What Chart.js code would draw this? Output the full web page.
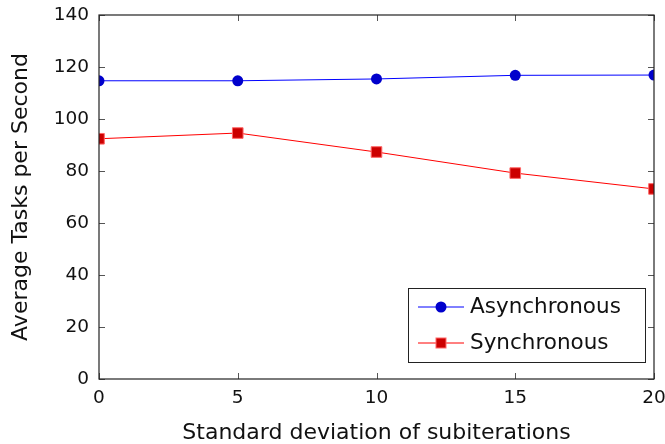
<!DOCTYPE html>
<html>
<head>
<meta charset="utf-8">
<script src="https://cdn.jsdelivr.net/npm/chart.js@4.4.0/dist/chart.umd.min.js"></script>
<style>
  html, body { margin: 0; padding: 0; background: #fff; }
  #wrap { width: 665px; height: 444px; }
</style>
</head>
<body>
<div id="wrap"><canvas id="myChart" width="665" height="444"></canvas></div>
<script>
// datos del grafico
const deviations = [0, 5, 10, 15, 20];
const asyncValues = [114.7, 114.7, 115.4, 116.8, 116.9];
const syncValues = [92.4, 94.6, 87.3, 79.2, 73.1];
const yTicks = [0, 20, 40, 60, 80, 100, 120, 140];
const xTicks = [0, 5, 10, 15, 20];

const fontName = "DejaVu Sans";

// marco y ticks hacia adentro, estilo pgfplots
const framePlugin = {
  id: "frame",
  afterDraw(chart) {
    const ctx = chart.ctx;
    const a = chart.chartArea;
    const xs = chart.scales.x;
    const ys = chart.scales.y;
    ctx.save();
    ctx.strokeStyle = "#555";
    ctx.lineWidth = 1;
    xTicks.forEach((t) => {
      const px = Math.round(xs.getPixelForValue(t)) + 0.5;
      ctx.beginPath();
      ctx.moveTo(px, a.bottom); ctx.lineTo(px, a.bottom - 6);
      ctx.moveTo(px, a.top); ctx.lineTo(px, a.top + 6);
      ctx.stroke();
    });
    yTicks.forEach((t) => {
      const py = Math.round(ys.getPixelForValue(t)) + 0.5;
      ctx.beginPath();
      ctx.moveTo(a.left, py); ctx.lineTo(a.left + 6, py);
      ctx.moveTo(a.right, py); ctx.lineTo(a.right - 6, py);
      ctx.stroke();
    });
    ctx.strokeStyle = "#222";
    ctx.lineWidth = 1.2;
    ctx.strokeRect(a.left, a.top, a.right - a.left, a.bottom - a.top);

    // leyenda
    const lx = 408, ly = 288, lw = 237, lh = 74;
    ctx.fillStyle = "#fff";
    ctx.fillRect(lx, ly, lw, lh);
    ctx.strokeStyle = "#222";
    ctx.lineWidth = 1;
    ctx.strokeRect(lx + 0.5, ly + 0.5, lw, lh);
    chart.data.datasets.forEach((ds, i) => {
      const cy = ly + 19 + i * 36;
      ctx.strokeStyle = ds.borderColor;
      ctx.lineWidth = 1;
      ctx.beginPath();
      ctx.moveTo(lx + 10, cy); ctx.lineTo(lx + 56, cy);
      ctx.stroke();
      ctx.fillStyle = ds.pointBackgroundColor;
      ctx.strokeStyle = ds.pointBorderColor;
      if (ds.pointStyle === "circle") {
        ctx.beginPath();
        ctx.arc(lx + 33, cy, 5.5, 0, Math.PI * 2);
        ctx.fill();
      } else {
        ctx.fillRect(lx + 28, cy - 5, 10, 10);
        ctx.strokeRect(lx + 28, cy - 5, 10, 10);
      }
      ctx.fillStyle = "#111";
      ctx.font = "21.5px " + fontName;
      ctx.textBaseline = "middle";
      ctx.textAlign = "left";
      ctx.fillText(ds.label, lx + 62, cy);
    });
    ctx.restore();
  }
};

const config = {
  type: "line",
  data: {
    labels: deviations,
    datasets: [
      {
        label: "Asynchronous",
        data: deviations.map((d, i) => ({ x: d, y: asyncValues[i] })),
        borderColor: "#0000ff",
        borderWidth: 1,
        pointStyle: "circle",
        pointRadius: 5.5,
        pointBackgroundColor: "#0000cc",
        pointBorderColor: "#0000cc",
        pointBorderWidth: 0,
        tension: 0
      },
      {
        label: "Synchronous",
        data: deviations.map((d, i) => ({ x: d, y: syncValues[i] })),
        borderColor: "#ff0000",
        borderWidth: 1,
        pointStyle: "rect",
        pointRadius: 7.5,
        pointBackgroundColor: "#cc0000",
        pointBorderColor: "#ff6666",
        pointBorderWidth: 1,
        tension: 0
      }
    ]
  },
  options: {
    responsive: false,
    animation: false,
    layout: { padding: { top: 15, right: 11, left: 0, bottom: 0 } },
    plugins: { legend: { display: false }, tooltip: { enabled: false } },
    scales: {
      x: {
        type: "linear",
        min: 0,
        max: 20,
        afterBuildTicks: (s) => { s.ticks = xTicks.map((v) => ({ value: v })); },
        afterFit: (s) => { s.height = 65; s.paddingLeft = 0; s.paddingRight = 0; },
        grid: { display: false, drawTicks: false },
        border: { display: false },
        ticks: { color: "#111", font: { family: fontName, size: 18.5 }, padding: 8, maxRotation: 0 },
        title: {
          display: true,
          text: "Standard deviation of subiterations",
          color: "#111",
          font: { family: fontName, size: 22, lineHeight: 1.0 },
          padding: { top: 0, bottom: 0 }
        }
      },
      y: {
        min: 0,
        max: 140,
        afterBuildTicks: (s) => { s.ticks = yTicks.map((v) => ({ value: v })); },
        afterFit: (s) => { s.width = 99; s.paddingTop = 0; s.paddingBottom = 0; },
        grid: { display: false, drawTicks: false },
        border: { display: false },
        ticks: { color: "#111", font: { family: fontName, size: 18.5 }, padding: 10 },
        title: {
          display: true,
          text: "Average Tasks per Second",
          color: "#111",
          font: { family: fontName, size: 22 },
          padding: { top: 8, bottom: 0 }
        }
      }
    }
  },
  plugins: [framePlugin]
};

const myChart = document.getElementById("myChart");
new Chart(myChart, config);
</script>
</body>
</html>
